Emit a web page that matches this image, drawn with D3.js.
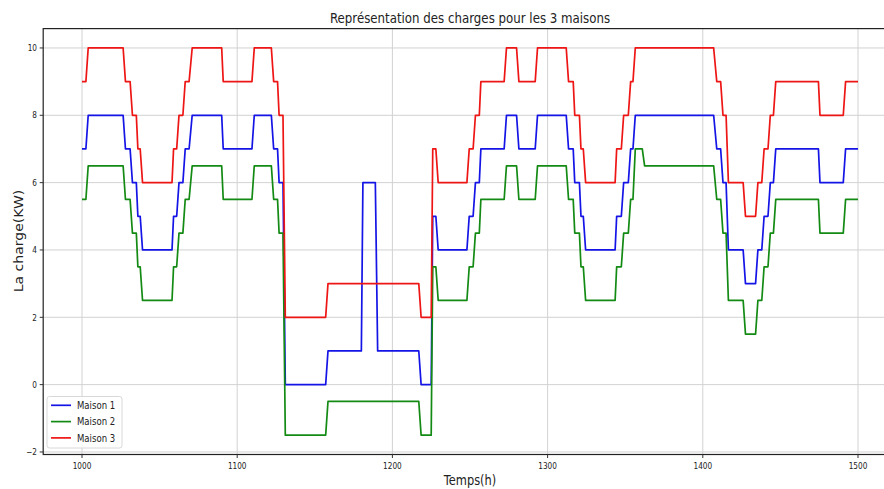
<!DOCTYPE html>
<html lang="fr">
<head>
<meta charset="UTF-8"/>
<title>Représentation des charges</title>
<script src="https://d3js.org/d3.v7.min.js"></script>
<style>
    body { margin: 0; background: #fff; }
    text { font-family: "DejaVu Sans", sans-serif; fill: #222; }
</style>
</head>
<body>
<script>
    //vertex times (h) of the step curves
    var temps = [1000, 1002.5, 1004, 1026.5, 1028, 1031, 1032.5, 1035, 1036, 1037.5, 1039, 1058, 1059, 1061, 1062.5, 1065, 1066.5, 1069, 1071, 1090,
        1091, 1109.5, 1111, 1122, 1123.5, 1126, 1127, 1129.5, 1131, 1157, 1158.5, 1180, 1181, 1189, 1190.5, 1217, 1218.5, 1225, 1226, 1228,
        1229.5, 1248, 1249.5, 1252, 1253.5, 1256, 1257, 1272, 1273.5, 1280, 1281.5, 1292, 1293.5, 1312, 1313.5, 1316.5, 1317.5, 1320.5, 1321.5, 1323,
        1324.5, 1343.5, 1344.5, 1347.5, 1349, 1352, 1353.5, 1355, 1356.5, 1361, 1362.5, 1407, 1409, 1411.5, 1413, 1415, 1416.5, 1426, 1427.5, 1434,
        1435.5, 1438, 1439.5, 1442, 1443.5, 1445.5, 1447, 1474.5, 1475.5, 1490.5, 1492, 1500];

    //charge (KW) of each house at those times
    var maison1 = [7, 7, 8, 8, 7, 7, 6, 6, 5, 5, 4, 4, 5, 5, 6, 6, 7, 7, 8, 8,
        7, 7, 8, 8, 7, 7, 6, 6, 0, 0, 1, 1, 6, 6, 1, 1, 0, 0, 5, 5,
        4, 4, 5, 5, 6, 6, 7, 7, 8, 8, 7, 7, 8, 8, 7, 7, 6, 6, 5, 5,
        4, 4, 5, 5, 6, 6, 7, 7, 8, 8, 8, 8, 7, 7, 6, 6, 4, 4, 3, 3,
        4, 4, 5, 5, 6, 6, 7, 7, 6, 6, 7, 7];
    var maison2 = [5.5, 5.5, 6.5, 6.5, 5.5, 5.5, 4.5, 4.5, 3.5, 3.5, 2.5, 2.5, 3.5, 3.5, 4.5, 4.5, 5.5, 5.5, 6.5, 6.5,
        5.5, 5.5, 6.5, 6.5, 5.5, 5.5, 4.5, 4.5, -1.5, -1.5, -0.5, -0.5, -0.5, -0.5, -0.5, -0.5, -1.5, -1.5, 3.5, 3.5,
        2.5, 2.5, 3.5, 3.5, 4.5, 4.5, 5.5, 5.5, 6.5, 6.5, 5.5, 5.5, 6.5, 6.5, 5.5, 5.5, 4.5, 4.5, 3.5, 3.5,
        2.5, 2.5, 3.5, 3.5, 4.5, 4.5, 5.5, 5.5, 7, 7, 6.5, 6.5, 5.5, 5.5, 4.5, 4.5, 2.5, 2.5, 1.5, 1.5,
        2.5, 2.5, 3.5, 3.5, 4.5, 4.5, 5.5, 5.5, 4.5, 4.5, 5.5, 5.5];
    var maison3 = [9, 9, 10, 10, 9, 9, 8, 8, 7, 7, 6, 6, 7, 7, 8, 8, 9, 9, 10, 10,
        9, 9, 10, 10, 9, 9, 8, 8, 2, 2, 3, 3, 3, 3, 3, 3, 2, 2, 7, 7,
        6, 6, 7, 7, 8, 8, 9, 9, 10, 10, 9, 9, 10, 10, 9, 9, 8, 8, 7, 7,
        6, 6, 7, 7, 8, 8, 9, 9, 10, 10, 10, 10, 9, 9, 8, 8, 6, 6, 5, 5,
        6, 6, 7, 7, 8, 8, 9, 9, 8, 8, 9, 9];

    var noms = ["Maison 1", "Maison 2", "Maison 3"];
    var couleurs = ["#1414e6", "#138a13", "#ee1515"];
    var xTicks = [1000, 1100, 1200, 1300, 1400, 1500];
    var yTicks = [-2, 0, 2, 4, 6, 8, 10];

    var w = 884;
    var h = 489;
    var sx = 0.815; //horizontal squeeze of the original picture

    var series = [maison1, maison2, maison3].map(function (vals, i) {
        return { nom: noms[i], couleur: couleurs[i], pts: vals.map(function (v, j) { return [temps[j], v]; }) };
    });

    //scales, with matplotlib's 5% margins
    var xScale = d3.scaleLinear().domain([975, 1525]).range([43.2, 896.8]);
    var yScale = d3.scaleLinear().domain([-2.075, 10.575]).range([454.5, 28.6]);

    var svg = d3.select("body").append("svg")
        .attr("width", w)
        .attr("height", h);

    function squeeze(x, y, rot) {
        return "translate(" + x + "," + y + ") scale(" + sx + ",1)" + (rot ? " rotate(" + rot + ")" : "");
    }

    //grid
    svg.append("g").selectAll("line").data(xTicks).enter().append("line")
        .attr("x1", function (d) { return xScale(d); })
        .attr("x2", function (d) { return xScale(d); })
        .attr("y1", 28.6).attr("y2", 454.5)
        .attr("stroke", "#d2d2d2").attr("stroke-width", 1);
    svg.append("g").selectAll("line").data(yTicks).enter().append("line")
        .attr("y1", function (d) { return yScale(d); })
        .attr("y2", function (d) { return yScale(d); })
        .attr("x1", 43.2).attr("x2", 896.8)
        .attr("stroke", "#d2d2d2").attr("stroke-width", 1);

    //lines
    var line = d3.line()
        .x(function (d) { return xScale(d[0]); })
        .y(function (d) { return yScale(d[1]); });

    svg.append("g").selectAll("path").data(series).enter().append("path")
        .attr("d", function (d) { return line(d.pts); })
        .attr("fill", "none")
        .attr("stroke", function (d) { return d.couleur; })
        .attr("stroke-width", 1.7)
        .attr("stroke-linejoin", "round");

    //frame
    svg.append("rect")
        .attr("x", 43.2).attr("y", 28.6)
        .attr("width", 896.8 - 43.2).attr("height", 454.5 - 28.6)
        .attr("fill", "none").attr("stroke", "#222").attr("stroke-width", 1.2);

    //ticks and tick labels
    svg.append("g").selectAll("line").data(xTicks).enter().append("line")
        .attr("x1", function (d) { return xScale(d); })
        .attr("x2", function (d) { return xScale(d); })
        .attr("y1", 454.5).attr("y2", 458)
        .attr("stroke", "#333");
    svg.append("g").selectAll("text").data(xTicks).enter().append("text")
        .attr("transform", function (d) { return squeeze(xScale(d), 469); })
        .attr("text-anchor", "middle")
        .attr("font-size", "9px")
        .text(function (d) { return d; });

    svg.append("g").selectAll("line").data(yTicks).enter().append("line")
        .attr("y1", function (d) { return yScale(d); })
        .attr("y2", function (d) { return yScale(d); })
        .attr("x1", 39.7).attr("x2", 43.2)
        .attr("stroke", "#333");
    svg.append("g").selectAll("text").data(yTicks).enter().append("text")
        .attr("transform", function (d) { return squeeze(37, yScale(d) + 3.2); })
        .attr("text-anchor", "end")
        .attr("font-size", "9px")
        .text(function (d) { return d < 0 ? "\u2212" + (-d) : d; });

    //titles
    svg.append("text")
        .attr("transform", squeeze(470, 23))
        .attr("text-anchor", "middle")
        .attr("font-size", "14.5px")
        .text("Représentation des charges pour les 3 maisons");
    svg.append("text")
        .attr("transform", squeeze(470, 485))
        .attr("text-anchor", "middle")
        .attr("font-size", "14px")
        .text("Temps(h)");
    svg.append("text")
        .attr("transform", squeeze(23, 241, -90))
        .attr("text-anchor", "middle")
        .attr("font-size", "14px")
        .text("La charge(KW)");

    //legend
    var leg = svg.append("g");
    leg.append("rect")
        .attr("x", 47).attr("y", 396.5)
        .attr("width", 75).attr("height", 51.5)
        .attr("rx", 2.5)
        .attr("fill", "#fff").attr("fill-opacity", 0.85)
        .attr("stroke", "#d8d8d8");
    var items = leg.selectAll("g").data(series).enter().append("g")
        .attr("transform", function (d, i) { return "translate(0," + (405.3 + i * 16.3) + ")"; });
    items.append("line")
        .attr("x1", 51).attr("x2", 71).attr("y1", 0).attr("y2", 0)
        .attr("stroke", function (d) { return d.couleur; })
        .attr("stroke-width", 1.7);
    items.append("text")
        .attr("transform", squeeze(77, 3.8))
        .attr("font-size", "10.5px")
        .text(function (d) { return d.nom; });
</script>
</body>
</html>
